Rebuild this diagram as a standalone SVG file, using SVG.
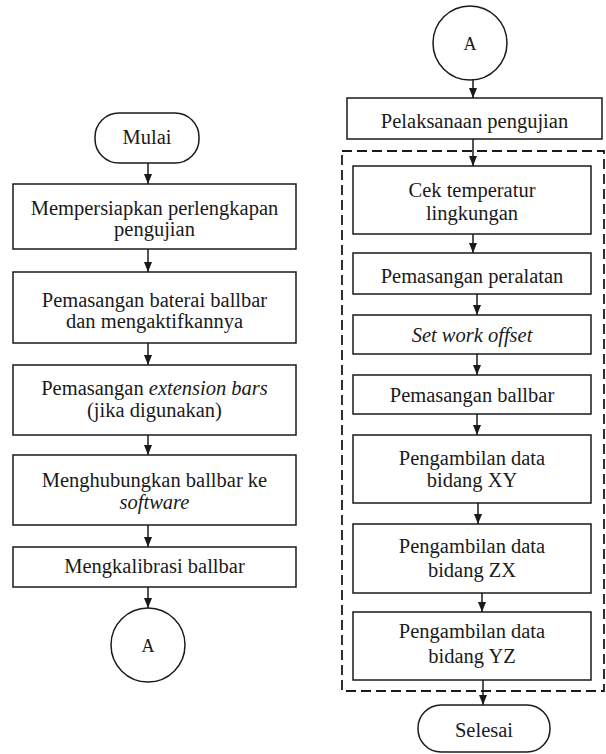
<svg xmlns="http://www.w3.org/2000/svg" width="606" height="754" viewBox="0 0 606 754">
  <defs>
    <style>
      .box { fill: #ffffff; stroke: #1a1a1a; stroke-width: 1.5; }
      .term { fill: #ffffff; stroke: #1a1a1a; stroke-width: 1.5; }
      .frame { fill: none; stroke: #1a1a1a; stroke-width: 1.8; stroke-dasharray: 10 5; }
      .edge { fill: none; stroke: #1a1a1a; stroke-width: 1.5; marker-end: url(#head); }
      .lbl { font-size: 20.5px; fill: #1a1a1a; text-anchor: middle; }
      .it { font-style: italic; }
    </style>
    <marker id="head" viewBox="0 0 10 8" refX="10" refY="4" markerWidth="10" markerHeight="8" markerUnits="userSpaceOnUse" orient="auto">
      <path d="M0,0 L10,4 L0,8 z" fill="#1a1a1a"/>
    </marker>
  </defs>
  <rect width="606" height="754" fill="#ffffff"/>

  <!-- dashed frame around the test steps -->
  <rect id="test-frame" class="frame" x="342" y="151" width="262" height="540"/>

  <!-- connectors -->
  <g id="connectors">
    <line class="edge" x1="148" y1="163" x2="148" y2="184"/>
    <line class="edge" x1="148" y1="249" x2="148" y2="272"/>
    <line class="edge" x1="148" y1="343" x2="148" y2="365"/>
    <line class="edge" x1="148" y1="435" x2="148" y2="455"/>
    <line class="edge" x1="148" y1="525" x2="148" y2="547"/>
    <line class="edge" x1="148" y1="587" x2="148" y2="608"/>

    <line class="edge" x1="473" y1="80" x2="473" y2="98"/>
    <line class="edge" x1="473" y1="139" x2="473" y2="166"/>
    <line class="edge" x1="473" y1="234" x2="473" y2="253"/>
    <line class="edge" x1="477" y1="294" x2="477" y2="315"/>
    <line class="edge" x1="477" y1="354" x2="477" y2="375"/>
    <line class="edge" x1="477" y1="414" x2="477" y2="435"/>
    <line class="edge" x1="478" y1="503" x2="478" y2="524"/>
    <line class="edge" x1="482" y1="593" x2="482" y2="612"/>
    <line class="edge" x1="483" y1="680" x2="483" y2="705"/>
  </g>

  <g font-family="'Liberation Serif', 'Times New Roman', 'DejaVu Serif', serif">
  <!-- left column -->
  <g id="mulai">
    <rect class="term" x="95" y="113" width="104" height="50" rx="24" ry="24"/>
    <text class="lbl" x="147" y="144">Mulai</text>
  </g>
  <g id="persiapan">
    <rect class="box" x="13" y="184" width="283" height="65"/>
    <text class="lbl" x="154.5" y="215">Mempersiapkan perlengkapan</text>
    <text class="lbl" x="154.5" y="236">pengujian</text>
  </g>
  <g id="baterai">
    <rect class="box" x="13" y="272" width="283" height="71"/>
    <text class="lbl" x="154.5" y="307">Pemasangan baterai ballbar</text>
    <text class="lbl" x="154.5" y="328">dan mengaktifkannya</text>
  </g>
  <g id="extension">
    <rect class="box" x="13" y="365" width="283" height="70"/>
    <text class="lbl" x="154.5" y="395">Pemasangan <tspan class="it">extension bars</tspan></text>
    <text class="lbl" x="154.5" y="417">(jika digunakan)</text>
  </g>
  <g id="software">
    <rect class="box" x="13" y="455" width="283" height="70"/>
    <text class="lbl" x="154.5" y="487">Menghubungkan ballbar ke</text>
    <text class="lbl it" x="154.5" y="509">software</text>
  </g>
  <g id="kalibrasi">
    <rect class="box" x="13" y="547" width="283" height="40"/>
    <text class="lbl" x="154.5" y="573">Mengkalibrasi ballbar</text>
  </g>
  <g id="connector-a-out">
    <circle class="term" cx="148" cy="645" r="37"/>
    <text class="lbl" x="148" y="652" style="font-size:18px">A</text>
  </g>

  <!-- right column -->
  <g id="connector-a-in">
    <circle class="term" cx="470" cy="43" r="37"/>
    <text class="lbl" x="470" y="50" style="font-size:18px">A</text>
  </g>
  <g id="pelaksanaan">
    <rect class="box" x="347" y="98" width="255" height="41"/>
    <text class="lbl" x="474.5" y="128">Pelaksanaan pengujian</text>
  </g>
  <g id="temperatur">
    <rect class="box" x="353" y="166" width="238" height="68"/>
    <text class="lbl" x="472" y="197">Cek temperatur</text>
    <text class="lbl" x="472" y="220">lingkungan</text>
  </g>
  <g id="peralatan">
    <rect class="box" x="353" y="253" width="238" height="41"/>
    <text class="lbl" x="472" y="283">Pemasangan peralatan</text>
  </g>
  <g id="work-offset">
    <rect class="box" x="353" y="315" width="238" height="39"/>
    <text class="lbl it" x="472" y="342">Set work offset</text>
  </g>
  <g id="ballbar">
    <rect class="box" x="353" y="375" width="238" height="39"/>
    <text class="lbl" x="472" y="402">Pemasangan ballbar</text>
  </g>
  <g id="data-xy">
    <rect class="box" x="353" y="435" width="238" height="68"/>
    <text class="lbl" x="472" y="465">Pengambilan data</text>
    <text class="lbl" x="472" y="487">bidang XY</text>
  </g>
  <g id="data-zx">
    <rect class="box" x="353" y="524" width="238" height="69"/>
    <text class="lbl" x="472" y="553">Pengambilan data</text>
    <text class="lbl" x="472" y="577">bidang ZX</text>
  </g>
  <g id="data-yz">
    <rect class="box" x="353" y="612" width="238" height="68"/>
    <text class="lbl" x="472" y="638">Pengambilan data</text>
    <text class="lbl" x="472" y="663">bidang YZ</text>
  </g>
  <g id="selesai">
    <rect class="term" x="418" y="705" width="132" height="47" rx="23" ry="23"/>
    <text class="lbl" x="484" y="737">Selesai</text>
  </g>
  </g>
</svg>
